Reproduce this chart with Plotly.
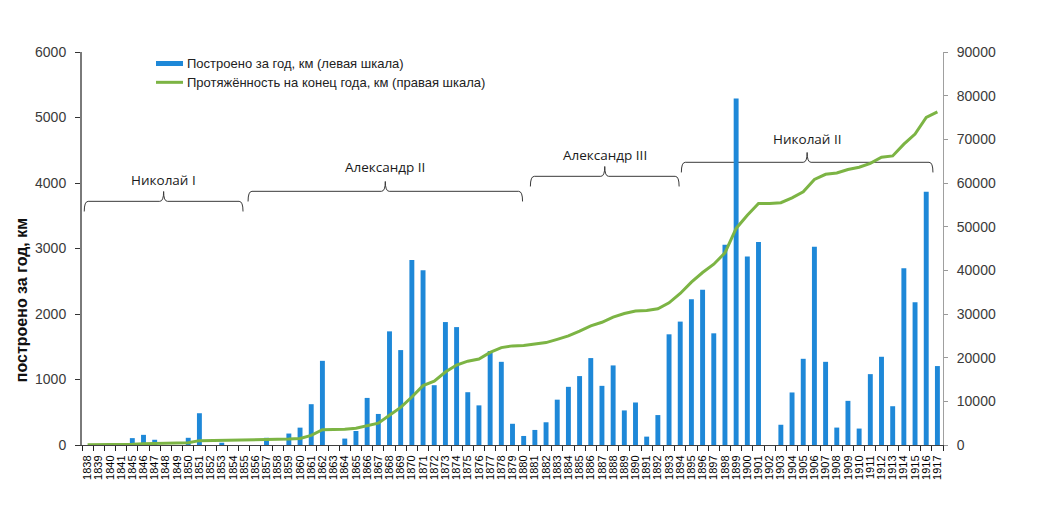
import plotly.graph_objects as go

# ---- data ----
years = [1838, 1839, 1840, 1841,
         1845, 1846, 1847, 1848, 1849, 1850, 1851, 1852, 1853, 1854, 1855, 1856, 1857, 1858, 1859, 1860,
         1861, 1862, 1863, 1864, 1865, 1866, 1867, 1868, 1869, 1870, 1871, 1872, 1873, 1874, 1875, 1876,
         1877, 1878, 1879, 1880, 1881, 1882, 1883, 1884, 1885, 1886, 1887, 1888, 1889, 1890, 1891, 1892,
         1893, 1894, 1895, 1896, 1897, 1898, 1899, 1900, 1901, 1902, 1903, 1904, 1905, 1906, 1907, 1908,
         1909, 1910, 1911, 1912, 1913, 1914, 1915, 1916, 1917]

built_km = [0, 0, 0, 0,
            105, 155, 80, 0, 0, 110, 485, 0, 35, 0, 0, 0, 110, 0, 175, 265,
            623, 1285, 0, 98, 214, 719, 474, 1735, 1449, 2826, 2668, 913, 1877, 1800, 806, 605,
            1434, 1270, 324, 138, 230, 347, 692, 888, 1052, 1327, 903, 1215, 528, 649, 128, 457,
            1690, 1884, 2225, 2372, 1705, 3057, 5290, 2878, 3099, 0, 309, 802, 1316, 3025, 1270, 266,
            674, 251, 1082, 1347, 592, 2700, 2180, 3868, 1205]

total_km = [30, 30, 30, 30,
            150, 300, 380, 400, 420, 530, 1000, 1050, 1100, 1100, 1150, 1150, 1200, 1200, 1350, 1500,
            2200, 3500, 3550, 3600, 3850, 4500, 5000, 6800, 8600, 11000, 13600, 14600, 16700, 18300, 19200, 19700,
            21200, 22300, 22700, 22800, 23100, 23450, 24200, 25000, 26100, 27300, 28100, 29300, 30100, 30700, 30800, 31200,
            32550, 34700, 37300, 39500, 41400, 44000, 49600, 52600, 55300, 55300, 55500, 56600, 58000, 60800, 62000, 62300,
            63100, 63600, 64500, 65900, 66200, 68900, 71200, 75000, 76300]

left_ticks = [0, 1000, 2000, 3000, 4000, 5000, 6000]
right_ticks = [0, 10000, 20000, 30000, 40000, 50000, 60000, 70000, 80000, 90000]

reign_names = ["Николай I", "Александр II", "Александр III", "Николай II"]

bar_name = "Построено за год, км (левая шкала)"
line_name = "Протяжённость на конец года, км (правая шкала)"
y_title = "построено за год, км"

# ---- styles / positions ----
BLUE = "#1E88D8"
GREEN = "#7CB444"
brace_x = [(-0.3, 13.9), (14.35, 38.9), (39.6, 52.9), (53.1, 75.6)]
brace_y = [3720, 3873, 4102, 4316]
label_dy = [330, 377, 332, 363]

x_idx = list(range(len(years)))

fig = go.Figure()
fig.add_trace(go.Bar(x=x_idx, y=built_km, name=bar_name,
                     marker=dict(color=BLUE, line_width=0), yaxis="y"))
fig.add_trace(go.Scatter(x=x_idx, y=total_km, name=line_name, mode="lines",
                         line=dict(color=GREEN, width=3), yaxis="y2"))

shapes = []
annotations = []
rx = 0.35
drop = 155
rise = 150
for name, (x0, x1), yl, dy in zip(reign_names, brace_x, brace_y, label_dy):
    xm = (x0 + x1) / 2
    path = (f"M {x0},{yl - drop} Q {x0},{yl} {x0 + rx},{yl} "
            f"L {xm - rx},{yl} Q {xm},{yl} {xm},{yl + rise} "
            f"Q {xm},{yl} {xm + rx},{yl} L {x1 - rx},{yl} "
            f"Q {x1},{yl} {x1},{yl - drop}")
    shapes.append(dict(type="path", path=path, xref="x", yref="y",
                       line=dict(color="#3a3a3a", width=1), layer="below"))
    annotations.append(dict(x=xm, y=yl + dy, xref="x", yref="y", text=name,
                            showarrow=False, xanchor="center", yanchor="middle",
                            font=dict(family="Open Sans", size=13.5, color="#1a1a1a")))

# manual legend (paper coords); plot area spans page px 82..943 x, 52..444.7 y
def px2paper_x(px):
    return (px - 82) / 861.0

def py2paper_y(py):
    return (444.7 - py) / 392.7

shapes.append(dict(type="rect", xref="paper", yref="paper",
                   x0=px2paper_x(156), x1=px2paper_x(183),
                   y0=py2paper_y(66), y1=py2paper_y(61),
                   fillcolor=BLUE, line_width=0))
shapes.append(dict(type="line", xref="paper", yref="paper",
                   x0=px2paper_x(156), x1=px2paper_x(183),
                   y0=py2paper_y(82.3), y1=py2paper_y(82.3),
                   line=dict(color=GREEN, width=3)))
annotations.append(dict(x=px2paper_x(185), y=py2paper_y(63.5), xref="paper", yref="paper",
                        text=bar_name, showarrow=False, xanchor="left", yanchor="middle",
                        font=dict(family="Liberation Sans, Arial", size=13, color="#222")))
annotations.append(dict(x=px2paper_x(185), y=py2paper_y(82.5), xref="paper", yref="paper",
                        text=line_name, showarrow=False, xanchor="left", yanchor="middle",
                        font=dict(family="Liberation Sans, Arial", size=13, color="#222")))
annotations.append(dict(x=px2paper_x(21), y=py2paper_y(300), xref="paper", yref="paper",
                        text=y_title, textangle=-90, showarrow=False,
                        xanchor="center", yanchor="middle",
                        font=dict(family="Liberation Sans, Arial", size=16, color="#111",
                                  weight="bold")))

tickfont = dict(family="Liberation Sans, Arial", size=14, color="#3a3a3a")

# page body has an 8px margin: figure sized to fit the 1040x529 window
fig.update_layout(
    width=1024, height=513,
    margin=dict(l=74, r=89, t=44, b=76),
    paper_bgcolor="white", plot_bgcolor="white",
    showlegend=False,
    bargap=0.56,
    shapes=shapes,
    annotations=annotations,
    xaxis=dict(range=[-0.5, len(years) - 0.5], tickmode="array", tickvals=x_idx,
               ticktext=[str(y) for y in years], tickangle=-90,
               tickfont=dict(family="Liberation Sans, Arial", size=11, color="#000"),
               ticks="outside", ticklen=5, tickcolor="rgba(0,0,0,0)",
               minor=dict(tickmode="array", tickvals=[i - 0.5 for i in range(len(years) + 1)],
                          ticks="outside", ticklen=5, tickcolor="#222", tickwidth=1, showgrid=False),
               showline=True, linecolor="#404040", linewidth=1,
               showgrid=False, zeroline=False),
    yaxis=dict(range=[0, 6000], tickmode="array", tickvals=left_ticks,
               ticktext=[str(v) for v in left_ticks],
               ticks="outside", ticklen=5, tickcolor="#333", tickwidth=1,
               tickfont=tickfont, ticklabelstandoff=6,
               showline=True, linecolor="#7a7a7a", linewidth=2,
               showgrid=False, zeroline=False),
    yaxis2=dict(range=[0, 90000], overlaying="y", side="right", tickmode="array",
                tickvals=right_ticks, ticktext=[str(v) for v in right_ticks],
                ticks="outside", ticklen=4, tickcolor="#999", tickwidth=1,
                tickfont=tickfont, ticklabelstandoff=6,
                showline=True, linecolor="#a0a0a0", linewidth=1,
                showgrid=False, zeroline=False),
)

fig.write_html("out.html")
